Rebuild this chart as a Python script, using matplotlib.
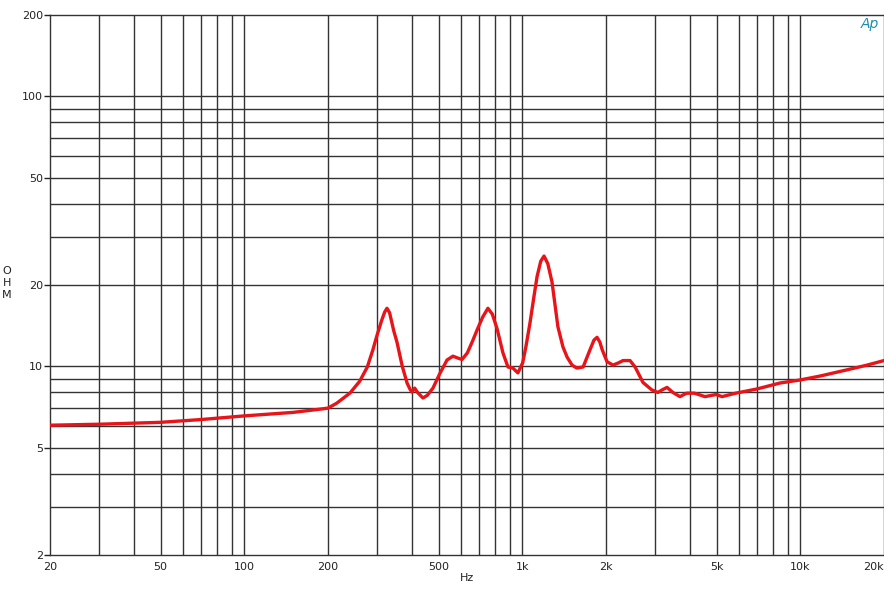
import numpy as np
import matplotlib.pyplot as plt
from matplotlib.ticker import FixedLocator, FixedFormatter, NullFormatter

freq = [20, 30, 50, 70, 100, 150, 190, 200, 215, 240, 260, 277, 290, 300, 312, 320, 326,
        333, 345, 354, 370, 385, 395, 401, 410, 420, 430, 439, 455, 477, 505, 536, 563,
        590, 607, 634, 660, 687, 720, 752, 780, 811, 852, 888, 925, 964, 1003, 1030, 1066,
        1100, 1130, 1165, 1197, 1235, 1279, 1343, 1400, 1450, 1510, 1570, 1655, 1751,
        1810, 1857, 1900, 1939, 2017, 2120, 2220, 2303, 2440, 2545, 2717, 2925, 3074,
        3200, 3315, 3480, 3690, 3900, 4160, 4540, 4980, 5230, 5860, 6980, 8450, 10000,
        11770, 14720, 17380, 20000]
ohm = [6.05, 6.1, 6.2, 6.35, 6.55, 6.75, 6.95, 7.0, 7.3, 7.96, 8.8, 9.94, 11.5, 13.0, 14.8,
       15.9, 16.4, 15.8, 13.5, 12.3, 10.0, 8.67, 8.2, 8.03, 8.3, 8.0, 7.8, 7.63, 7.8, 8.3,
       9.4, 10.55, 10.9, 10.7, 10.6, 11.2, 12.3, 13.6, 15.2, 16.4, 15.6, 13.8, 11.2, 9.94,
       9.85, 9.45, 10.3, 11.8, 14.5, 18.0, 21.5, 24.5, 25.6, 24.0, 20.5, 14.0, 11.8, 10.8,
       10.1, 9.85, 9.94, 11.5, 12.5, 12.8, 12.3, 11.5, 10.4, 10.1, 10.3, 10.5, 10.5, 9.94,
       8.71, 8.17, 8.0, 8.2, 8.35, 8.0, 7.72, 7.95, 7.95, 7.72, 7.86, 7.72, 7.95, 8.24,
       8.67, 8.9, 9.2, 9.7, 10.1, 10.5]

xticks = [20, 50, 100, 200, 500, 1000, 2000, 5000, 10000, 20000]
xlabels = ['20', '50', '100', '200', '500', '1k', '2k', '5k', '10k', '20k']
yticks = [2, 5, 10, 20, 50, 100, 200]
ylabels = ['2', '5', '10', '20', '50', '100', '200']

fig = plt.figure(figsize=(8.84, 6.0), dpi=100)
ax = fig.add_axes([50 / 884, 45 / 600, 834 / 884, 540 / 600])
ax.set_xscale('log')
ax.set_yscale('log')
ax.set_xlim(20, 20000)
ax.set_ylim(2, 200)

# grid lines: every 1-9 step, but x stops at 10k and y stops at 100
gx = [m * 10 ** e for e in range(1, 4) for m in range(1, 10)] + [10000]
gx = [v for v in gx if 20 < v <= 10000]
gy = [m * 10 ** e for e in range(0, 2) for m in range(1, 10)] + [100]
gy = [v for v in gy if 2 < v <= 100]
for v in gx:
    ax.axvline(v, color='#333333', lw=1, zorder=1)
for v in gy:
    ax.axhline(v, color='#333333', lw=1, zorder=1)

ax.plot(freq, ohm, color='#e8141a', lw=2.4, zorder=3)

ax.xaxis.set_major_locator(FixedLocator(xticks))
ax.xaxis.set_major_formatter(FixedFormatter(xlabels))
ax.xaxis.set_minor_formatter(NullFormatter())
ax.yaxis.set_major_locator(FixedLocator(yticks))
ax.yaxis.set_major_formatter(FixedFormatter(ylabels))
ax.yaxis.set_minor_formatter(NullFormatter())
ax.tick_params(which='minor', length=0)
ax.tick_params(axis='x', which='major', length=0, pad=5, labelsize=8, colors='#222222')
ax.tick_params(axis='y', which='major', length=4, width=1, pad=1, labelsize=8, colors='#222222')
ax.get_xticklabels()[-1].set_horizontalalignment('right')
for s in ax.spines.values():
    s.set_color('#333333')
    s.set_linewidth(1)

fig.text(467 / 884, 1 - 578 / 600, 'Hz', ha='center', va='center', fontsize=8, color='#222222')
fig.text(7 / 884, 1 - 283 / 600, 'O\nH\nM', ha='center', va='center', fontsize=8,
         color='#222222', linespacing=1.2)
fig.text(870 / 884, 1 - 24 / 600, 'Ap', ha='center', va='center', fontsize=10,
         color='#1a8fb0', style='italic')

fig.savefig('out.png', dpi=100)
